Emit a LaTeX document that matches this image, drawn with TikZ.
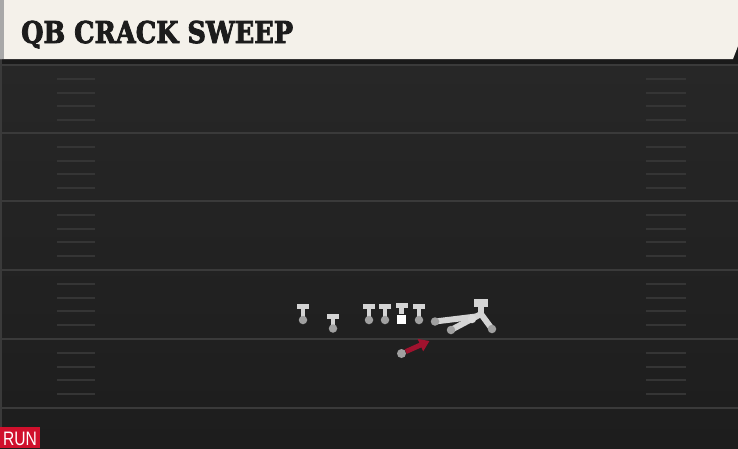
\documentclass[tikz,border=0pt]{standalone}
\usepackage{fontspec}
\setmainfont{DejaVu Serif}
\newfontfamily\runfont{Liberation Sans}
\usetikzlibrary{arrows.meta}
\definecolor{cream}{HTML}{F4F1EA}
\definecolor{edgegray}{HTML}{A8A8A8}
\definecolor{darkbar}{HTML}{1A1A1A}
\definecolor{fieldtop}{HTML}{272727}
\definecolor{fieldbot}{HTML}{1D1D1D}
\definecolor{yardc}{HTML}{3A3A3A}
\definecolor{hashc}{HTML}{353535}
\definecolor{plgray}{HTML}{D4D4D4}
\definecolor{dotgray}{HTML}{A0A0A0}
\definecolor{runred}{HTML}{D0102C}
\definecolor{arrowred}{HTML}{A0122E}
\definecolor{titlec}{HTML}{1C1C1C}
\tikzset{
  yardline/.style={draw=yardc, line width=2pt},
  hashmark/.style={draw=hashc, line width=2pt},
  bar/.style={fill=plgray, minimum width=12pt, minimum height=5pt, inner sep=0pt},
  dot/.style={circle, fill=dotgray, minimum size=8.5pt, inner sep=0pt},
  stem/.style={draw=plgray, line width=4.5pt},
  fstroke/.style={draw=plgray, line width=6pt, line cap=round},
  redarrow/.style={draw=arrowred, line width=5pt, -{Triangle[length=10pt,width=13pt]}, arrowred},
}
\begin{document}
\begin{tikzpicture}[x=1pt,y=-1pt]
\useasboundingbox (0,0) rectangle (738,448);
% field
\fill[darkbar] (0,0) rectangle (738,448);
\shade[top color=fieldtop, bottom color=fieldbot] (0,64) rectangle (738,448);
\fill[yardc] (0,59) rectangle (2,448);
% header
\fill[cream] (0,0) -- (738,0) -- (738,46) -- (733,59) -- (0,59) -- cycle;
\fill[edgegray] (0,0) rectangle (4,59);
\node[anchor=base west, text=titlec, font=\bfseries\fontsize{30}{30}\selectfont, inner sep=0pt] (title) at (21,43) {\scalebox{0.855}[1]{\special{pdf:code 2 Tr 0.9 w}QB CRACK SWEEP\special{pdf:code 0 Tr}}};
% yard lines
\foreach \y in {65,133,201,270,339,408} \draw[yardline] (0,\y) -- (738,\y);
% hash marks
\foreach \s in {65,133,201,270,339} {
  \foreach \o in {14,27.5,41,55} {
    \draw[hashmark] (57,\s+\o) -- (95,\s+\o);
    \draw[hashmark] (646,\s+\o) -- (686,\s+\o);
  }
}
% linemen
\foreach \n/\x/\yb/\yc in {pa/303/306.5/320, pb/333/316/328.5, pc/369/306.5/320, pd/385/306.5/320, pe/419/306.5/320} {
  \node[bar] (\n b) at (\x,\yb) {};
  \draw[stem] (\n b.south) -- (\x,\yc);
  \node[dot] (\n c) at (\x,\yc) {};
}
% center
\node[bar] (cb) at (401.7,305.5) {};
\node[fill=white, minimum width=9pt, minimum height=9pt, inner sep=0pt] (cs) at (401.7,319) {};
\draw[stem] (cb.south) -- (cs.north);
% formation right
\node[fill=plgray, minimum width=14pt, minimum height=8.5pt, inner sep=0pt] (box) at (481,303) {};
\coordinate (j) at (481,314);
\coordinate (k) at (476,316.5);
\coordinate (wlp) at (435,321.5);
\coordinate (wmp) at (451,330);
\coordinate (wrp) at (492,329);
\draw[fstroke] (box.south) -- (j);
\draw[fstroke] (j) -- (wrp);
\draw[fstroke] (j) -- (wmp);
\draw[fstroke] (wlp) -- (k);
\node[circle, fill=plgray!85!white, minimum size=8.5pt, inner sep=0pt] (jc) at (472,319) {};
\node[dot] (wl) at (wlp) {};
\node[dot] (wm) at (wmp) {};
\node[dot] (wr) at (wrp) {};
% red arrow
\node[dot, minimum size=9pt] (rb) at (401.5,353.5) {};
\coordinate (rt) at (429.5,341);
\draw[redarrow] (rb) -- (rt);
% RUN badge
\node[fill=runred, minimum width=40pt, minimum height=21pt, inner sep=0pt, anchor=south west] (runbox) at (0,448) {};
\node[text=white, font=\runfont\fontsize{19.5}{19.5}\selectfont, inner sep=0pt] (runtxt) at (20,438.5) {\scalebox{0.8}[1]{RUN}};
\end{tikzpicture}
\end{document}
